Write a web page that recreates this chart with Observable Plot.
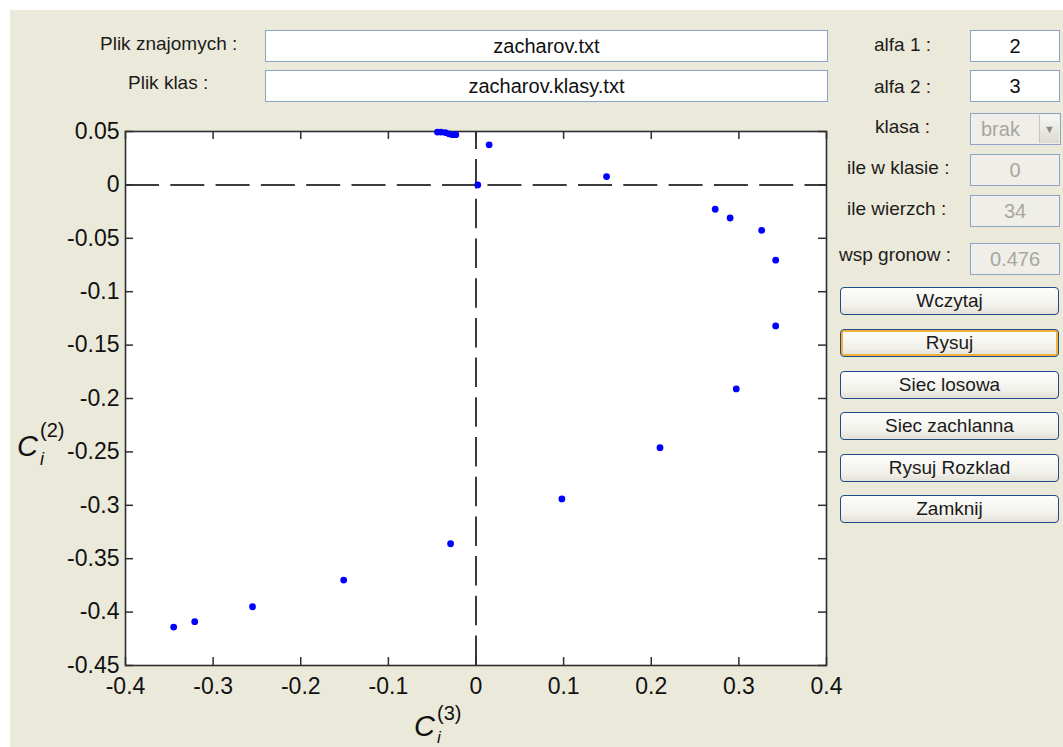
<!DOCTYPE html>
<html><head><meta charset="utf-8">
<script src="https://cdn.jsdelivr.net/npm/d3@7"></script>
<script src="https://cdn.jsdelivr.net/npm/@observablehq/plot@0.6"></script>
<style>
html,body{margin:0;padding:0;background:#fff;}
#root{position:relative;width:1063px;height:747px;overflow:hidden;background:#fff;font-family:"Liberation Sans",Arial,sans-serif;}
#panel{position:absolute;left:10px;top:10px;width:1053px;height:737px;background:#ebe9da;}
#chart{position:absolute;left:0;top:0;}
.lbl{position:absolute;font-size:19px;color:#1c1c1c;white-space:nowrap;line-height:1;}
.box{position:absolute;box-sizing:border-box;background:#fff;border:1px solid #8ea4c6;font-size:20px;color:#111;display:flex;align-items:center;justify-content:center;}
.box.dis{background:#efeee8;color:#a8a79e;}
.arrow{position:absolute;right:1px;top:1px;bottom:1px;width:20px;box-sizing:border-box;background:linear-gradient(#f7f7f4,#dcdad0);border-left:1px solid #c8c6bc;color:#8a8a8a;font-size:11px;display:flex;align-items:center;justify-content:center;}
.btn{position:absolute;box-sizing:border-box;left:840px;width:219px;height:28px;border:1.5px solid #1f4b86;border-radius:4px;background:linear-gradient(#fefefd,#f1f0ea 70%,#e2e0d6);font-size:19px;color:#1a1a1a;display:flex;align-items:center;justify-content:center;}
.btn.on{box-shadow:inset 0 0 0 2px #f2b23a;}
.ax{position:absolute;font-family:"Liberation Sans",Arial,sans-serif;color:#111;line-height:1;white-space:nowrap;}
</style>
</head><body>
<div id="root">
  <div id="panel"></div>
  <div id="chart"></div>

  <div class="lbl" style="left:100px;top:34px;">Plik znajomych :</div>
  <div class="lbl" style="left:128px;top:73px;">Plik klas :</div>
  <div class="box" style="left:265px;top:30px;width:563px;height:32px;">zacharov.txt</div>
  <div class="box" style="left:265px;top:70px;width:563px;height:32px;">zacharov.klasy.txt</div>

  <div class="lbl" style="left:874px;top:35px;">alfa 1 :</div>
  <div class="lbl" style="left:874px;top:77px;">alfa 2 :</div>
  <div class="lbl" style="left:875px;top:117px;">klasa :</div>
  <div class="lbl" style="left:847px;top:158px;">ile w klasie :</div>
  <div class="lbl" style="left:847px;top:199px;">ile wierzch :</div>
  <div class="lbl" style="left:839px;top:245px;">wsp gronow :</div>

  <div class="box" style="left:970px;top:30px;width:90px;height:32px;">2</div>
  <div class="box" style="left:970px;top:70px;width:90px;height:32px;">3</div>
  <div class="box dis" style="left:970px;top:113px;width:91px;height:32px;justify-content:flex-start;padding-left:10px;">brak<div class="arrow">&#9660;</div></div>
  <div class="box dis" style="left:970px;top:154px;width:90px;height:32px;">0</div>
  <div class="box dis" style="left:970px;top:195px;width:90px;height:32px;">34</div>
  <div class="box dis" style="left:970px;top:243px;width:90px;height:32px;">0.476</div>

  <div class="btn" style="top:287px;">Wczytaj</div>
  <div class="btn on" style="top:329px;">Rysuj</div>
  <div class="btn" style="top:371px;">Siec losowa</div>
  <div class="btn" style="top:412px;">Siec zachlanna</div>
  <div class="btn" style="top:454px;">Rysuj Rozklad</div>
  <div class="btn" style="top:495px;">Zamknij</div>

  <div class="ax" style="left:17px;top:432px;font-size:29px;font-style:italic;">C</div>
  <div class="ax" style="left:40px;top:420px;font-size:20px;">(2)</div>
  <div class="ax" style="left:40px;top:450px;font-size:18px;font-style:italic;">i</div>

  <div class="ax" style="left:414px;top:712px;font-size:29px;font-style:italic;">C</div>
  <div class="ax" style="left:437px;top:703px;font-size:20px;">(3)</div>
  <div class="ax" style="left:437px;top:729px;font-size:17px;font-style:italic;">i</div>
</div>
<script>
// C_i^(3) values (x) and C_i^(2) values (y)
const c3 = [-0.345, -0.321, -0.255, -0.151, -0.029, 0.098, 0.210, 0.297, 0.342, 0.342, 0.326, 0.290, 0.273, 0.149, 0.015, 0.002, -0.044, -0.040, -0.035, -0.031, -0.027, -0.023];
const c2 = [-0.414, -0.409, -0.395, -0.370, -0.336, -0.294, -0.246, -0.191, -0.132, -0.0705, -0.0425, -0.031, -0.0228, 0.0078, 0.0375, 0.0, 0.0495, 0.0495, 0.049, 0.0478, 0.047, 0.047];
const xDomain = [-0.4, 0.4];
const yDomain = [-0.45, 0.05];
const xTicks = [-0.4, -0.3, -0.2, -0.1, 0, 0.1, 0.2, 0.3, 0.4];
const yTicks = [0.05, 0, -0.05, -0.1, -0.15, -0.2, -0.25, -0.3, -0.35, -0.4, -0.45];

const pts = c3.map((x, i) => ({x, y: c2[i]}));
const W = 850, H = 747, mL = 125, mR = 24, mT = 131, mB = 82;
const fw = W - mL - mR, fh = H - mT - mB;
const tick = 8, axisColor = "#2e2e2e";

const chart = Plot.plot({
  width: W, height: H,
  marginLeft: mL, marginRight: mR, marginTop: mT, marginBottom: mB,
  x: {domain: xDomain, ticks: xTicks},
  y: {domain: yDomain, ticks: yTicks},
  style: {background: "transparent", fontFamily: "Liberation Sans, Arial, sans-serif", fontSize: "23px", color: "#111"},
  marks: [
    Plot.frame({fill: "white", stroke: "none"}),
    Plot.ruleY([0], {stroke: "#3c3c3c", strokeWidth: 2, strokeDasharray: "34,11.3"}),
    Plot.ruleX([0], {y1: () => yDomain[0], y2: () => yDomain[1], stroke: "#3c3c3c", strokeWidth: 2, strokeDasharray: "29.5,10.2"}),
    Plot.tickX(xTicks, {x: d => d, insetTop: fh - tick, stroke: axisColor, strokeWidth: 1.5}),
    Plot.tickX(xTicks, {x: d => d, insetBottom: fh - tick, stroke: axisColor, strokeWidth: 1.5}),
    Plot.tickY(yTicks, {y: d => d, insetRight: fw - tick, stroke: axisColor, strokeWidth: 1.5}),
    Plot.tickY(yTicks, {y: d => d, insetLeft: fw - tick, stroke: axisColor, strokeWidth: 1.5}),
    Plot.frame({stroke: axisColor, strokeWidth: 1.6}),
    Plot.axisX(xTicks, {anchor: "bottom", tickSize: 0, tickPadding: 12, tickFormat: d => String(d), label: null}),
    Plot.axisY(yTicks, {anchor: "left", tickSize: 0, tickPadding: 6, tickFormat: d => String(d), label: null}),
    Plot.dot(pts, {x: "x", y: "y", r: 3.4, fill: "#0000ff", stroke: "none"})
  ]
});
document.getElementById("chart").appendChild(chart);
</script>
</body></html>
